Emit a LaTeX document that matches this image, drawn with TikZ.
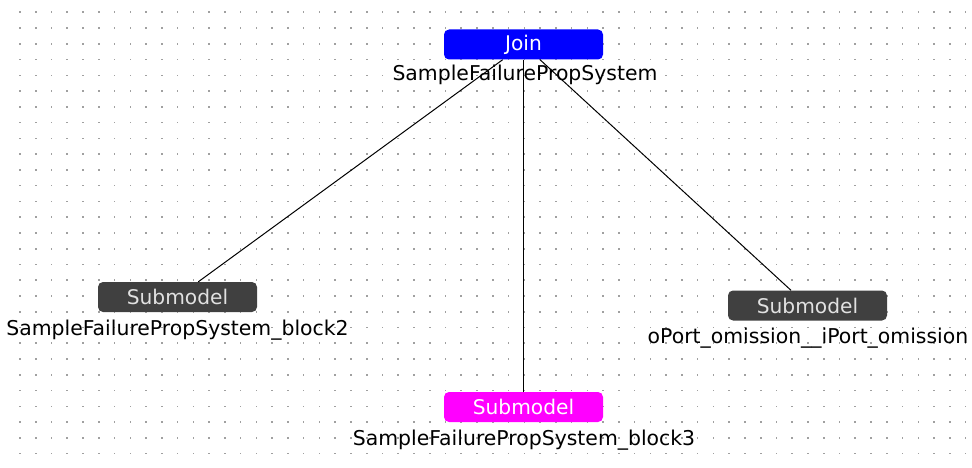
\documentclass[tikz,border=0pt]{standalone}
\usepackage{fontspec}
\setmainfont{DejaVu Sans}
\definecolor{joinblue}{RGB}{0,0,255}
\definecolor{subgray}{RGB}{64,64,64}
\definecolor{submag}{RGB}{255,0,255}
\definecolor{dotc}{RGB}{160,160,160}
\definecolor{subtext}{RGB}{225,225,225}
\begin{document}
\begin{tikzpicture}[x=1pt,y=-1pt,
  blockbox/.style={draw=none,rounded corners=5pt,minimum width=159pt,minimum height=30pt,inner sep=0pt,
    font=\fontsize{20.2}{24}\selectfont},
  lbl/.style={anchor=base,inner sep=0pt,text=black,font=\fontsize{20.4}{24}\selectfont},
  conn/.style={draw=black,line width=1pt}]
\useasboundingbox (0,0) rectangle (972,468);
\fill[white] (0,0) rectangle (972,468);
% dot grid
\foreach \i in {0,...,60}{
  \foreach \j in {0,...,28}{
    \fill[dotc] ({20+15.76*\i-0.8},{12.3+15.76*\j-0.8}) rectangle ++(1.6,1.6);
  }
}
% nodes
\node[blockbox,fill=joinblue,text=white] (join) at (523.5,44.5) {Join};
\node[blockbox,fill=subgray,text=subtext] (b2) at (177.5,297) {Submodel};
\node[blockbox,fill=subgray,text=subtext] (om) at (807.5,305.5) {Submodel};
\node[blockbox,fill=submag,text=white] (b3) at (523.5,407) {Submodel};
% connectors
\draw[conn] (join) -- (b2);
\draw[conn] (join) -- (b3);
\draw[conn] (join) -- (om);
% labels
\node[lbl] (joinlbl) at (525,81) {SampleFailurePropSystem};
\node[lbl] (b2lbl) at (177.5,335) {SampleFailurePropSystem\_block2};
\node[lbl] (omlbl) at (808,343) {oPort\_omission\_\_iPort\_omission};
\node[lbl] (b3lbl) at (524,445) {SampleFailurePropSystem\_block3};
\end{tikzpicture}
\end{document}
